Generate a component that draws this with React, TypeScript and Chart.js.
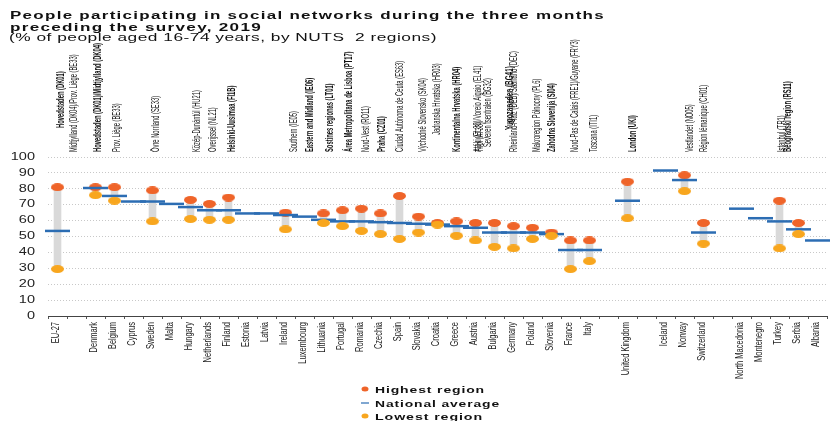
import React, { useEffect, useRef } from 'react';
import { Chart, registerables } from 'chart.js';

Chart.register(...registerables);

// ---------- DATA ----------
const TITLE_LINE_1 = 'People participating in social networks during the three months';
const TITLE_LINE_2 = 'preceding the survey, 2019';
const SUBTITLE = '(% of people aged 16-74 years, by NUTS  2 regions)';

const COUNTRIES = [
  'EU-27', '', 'Denmark', 'Belgium', 'Cyprus', 'Sweden', 'Malta', 'Hungary', 'Netherlands', 'Finland',
  'Estonia', 'Latvia', 'Ireland', 'Luxembourg', 'Lithuania', 'Portugal', 'Romania', 'Czechia', 'Spain',
  'Slovakia', 'Croatia', 'Greece', 'Austria', 'Bulgaria', 'Germany', 'Poland', 'Slovenia', 'France', 'Italy',
  ' ', 'United Kingdom', '  ', 'Iceland', 'Norway', 'Switzerland', '   ',
  'North Macedonia', 'Montenegro', 'Turkey', 'Serbia', 'Albania',
];

const HIGHEST = [
  81, null, 81, 81, null, 79, null, 73, 70.5, 74.5,
  null, null, 65, null, 64.5, 66.5, 67.5, 64.5, 75.5,
  62.5, 58.5, 59.5, 58.5, 58.5, 56.5, 55.5, 52.5, 47.5, 47.5,
  null, 84.5, null, null, 88.5, 58.5, null,
  null, null, 72.5, 58.5, null,
];

const NATIONAL = [
  53.5, null, 80.5, 75.5, 72, 72, 70.5, 68.5, 66.5, 66.5,
  64.5, 64.5, 63.5, 62.5, 60.5, 59.5, 59.5, 59, 58.5,
  58, 57.5, 56.5, 55.5, 52.5, 52.5, 52.5, 51.5, 41.5, 41.5,
  null, 72.5, null, 91.5, 85.5, 52.5, null,
  67.5, 61.5, 59.5, 54.5, 47.5,
];

const LOWEST = [
  29.5, null, 76, 72.5, null, 59.5, null, 61, 60.5, 60.5,
  null, null, 54.5, null, 58.5, 56.5, 53.5, 51.5, 48.5,
  52.5, 57.5, 50.5, 47.5, 43.5, 42.5, 48.5, 50.5, 29.5, 34.5,
  null, 61.5, null, null, 78.5, 45.5, null,
  null, null, 42.5, 51.5, null,
];

const LEGEND_LABELS = ['Highest region', 'National average', 'Lowest region'];

const REGION_LABELS = [
  'Hovedstaden (DK01)',
  'Midtjylland (DK04)/Prov. Liège (BE33)',
  'Hovedstaden (DK01)/Midtjylland (DK04)',
  'Prov. Liège (BE33)',
  'Övre Norrland (SE33)',
  'Közép-Dunántúl (HU21)',
  'Overijssel (NL21)',
  'Helsinki-Uusimaa (FI1B)',
  'Southern (IE05)',
  'Eastern and Midland (IE06)',
  'Sostines regionas (LT01)',
  'Área Metropolitana de Lisboa (PT17)',
  'Nord-Vest (RO11)',
  'Praha (CZ01)',
  'Ciudad Autónoma de Ceuta (ES63)',
  'Východné Slovensko (SK04)',
  'Jadranska Hrvatska (HR03)',
  'Kontinentalna Hrvatska (HR04)',
  'Attiki (EL30)/Voreio Aigaio (EL41)',
  'Tirol (AT33)',
  'Severen tsentralen (BG32)',
  'Yugozapaden (BG41)',
  'Rheinland-Pfalz (DEB)/Saarland (DEC)',
  'Makroregion Północny (PL6)',
  'Zahodna Slovenija (SI04)',
  'Nord-Pas de Calais (FRE1)/Guyane (FRY3)',
  'Toscana (ITI1)',
  'London (UKI)',
  'Vestlandet (NO05)',
  'Région lémanique (CH01)',
  'Istanbul (TR1)',
  'Beogradski region (RS11)',
];

const REGION_COUNTRY = [
  'EU-27', 'EU-27', 'Denmark', 'Belgium', 'Sweden', 'Hungary', 'Netherlands', 'Finland',
  'Ireland', 'Ireland', 'Lithuania', 'Portugal', 'Romania', 'Czechia', 'Spain', 'Slovakia',
  'Croatia', 'Croatia', 'Greece', 'Austria', 'Bulgaria', 'Bulgaria', 'Germany', 'Poland',
  'Slovenia', 'France', 'Italy', 'United Kingdom', 'Norway', 'Switzerland', 'Turkey', 'Serbia',
];

// ---------- LAYOUT / STYLE (kept apart from the data) ----------
// dx: horizontal shift from the country's centre, gap: distance above the plot, b: bold, s: font size
const REGION_LAYOUT = [
  { dx: 4, gap: 29, b: true }, { dx: 17, gap: 5, b: false }, { dx: 3, gap: 5, b: true }, { dx: 3, gap: 5, b: false },
  { dx: 4, gap: 5, b: false }, { dx: 7, gap: 5, b: false }, { dx: 4, gap: 5, b: false }, { dx: 4, gap: 5, b: true },
  { dx: 9, gap: 5, b: false }, { dx: 25, gap: 5, b: true }, { dx: 7, gap: 5, b: true }, { dx: 7, gap: 5, b: true },
  { dx: 5, gap: 5, b: false }, { dx: 2, gap: 5, b: true }, { dx: 1, gap: 5, b: false }, { dx: 5, gap: 5, b: false },
  { dx: 0, gap: 22, b: false }, { dx: 20, gap: 5, b: true }, { dx: 22, gap: 5, b: false }, { dx: 5, gap: 5, b: false },
  { dx: -6, gap: 10, b: false }, { dx: 15, gap: 27, b: true, s: 11 }, { dx: 1, gap: 5, b: false }, { dx: 5, gap: 5, b: false },
  { dx: 1, gap: 5, b: true }, { dx: 5, gap: 5, b: false }, { dx: 5, gap: 5, b: false }, { dx: 6, gap: 5, b: true },
  { dx: 6, gap: 5, b: false }, { dx: 1, gap: 5, b: false }, { dx: 3, gap: 5, b: false }, { dx: -10, gap: 5, b: true },
];

const FONT = '"Liberation Sans", Arial, Helvetica, sans-serif';
const C_HIGH = '#ef6429';
const C_LOW = '#f8a61e';
const C_AVG = '#2c6db3';
const C_BAR = '#d9d9d9';
const C_TEXT = '#111111';

function ellipse(color: string, w: number, h: number) {
  const c = document.createElement('canvas');
  c.width = w;
  c.height = h;
  const g = c.getContext('2d')!;
  g.fillStyle = color;
  g.beginPath();
  g.ellipse(w / 2, h / 2, w / 2, h / 2, 0, 0, Math.PI * 2);
  g.fill();
  return c;
}

function fitText(ctx: CanvasRenderingContext2D, text: string, x: number, y: number, font: string, width: number, spacing: number) {
  ctx.save();
  ctx.font = font;
  (ctx as any).letterSpacing = spacing + 'px';
  const w = ctx.measureText(text).width;
  ctx.translate(x, y);
  ctx.scale(width / w, 1);
  ctx.textAlign = 'left';
  ctx.textBaseline = 'alphabetic';
  ctx.fillText(text, 0, 0);
  ctx.restore();
}

function stretchText(ctx: CanvasRenderingContext2D, text: string, x: number, y: number, font: string, sx: number, align: CanvasTextAlign) {
  ctx.save();
  ctx.font = font;
  ctx.translate(x, y);
  ctx.scale(sx, 1);
  ctx.textAlign = align;
  ctx.textBaseline = 'middle';
  ctx.fillText(text, 0, 0);
  ctx.restore();
}

function verticalText(ctx: CanvasRenderingContext2D, text: string, x: number, y: number, font: string, along: number, align: CanvasTextAlign) {
  ctx.save();
  ctx.font = font;
  ctx.translate(x, y);
  ctx.rotate(-Math.PI / 2);
  ctx.scale(along, 1);
  ctx.textAlign = align;
  ctx.textBaseline = 'middle';
  ctx.fillText(text, 0, 0);
  ctx.restore();
}

const textPlugin = {
  id: 'eurostatText',
  afterDraw(chart: any) {
    const ctx: CanvasRenderingContext2D = chart.ctx;
    const xs = chart.scales.x;
    const ys = chart.scales.y;
    const area = chart.chartArea;
    ctx.save();
    ctx.fillStyle = C_TEXT;

    // Title
    fitText(ctx, TITLE_LINE_1, 10, 19, `bold 10.5px ${FONT}`, 595, 0.8);
    fitText(ctx, TITLE_LINE_2, 10, 31, `bold 10.5px ${FONT}`, 252, 0.8);
    fitText(ctx, SUBTITLE, 9, 41, `10.5px ${FONT}`, 428, 0.3);

    // Y tick labels
    ctx.fillStyle = '#222';
    ys.ticks.forEach((t: any) => {
      stretchText(ctx, String(t.value), 35, ys.getPixelForValue(t.value), `10px ${FONT}`, 1.45, 'right');
    });

    // X category labels
    COUNTRIES.forEach((c, i) => {
      const label = c.trim();
      if (!label) return;
      verticalText(ctx, label, xs.getPixelForValue(i) - 1, area.bottom + 6, `10px ${FONT}`, 0.75, 'right');
    });

    // Region labels above the plot
    ctx.fillStyle = C_TEXT;
    REGION_LABELS.forEach((text, k) => {
      const idx = COUNTRIES.indexOf(REGION_COUNTRY[k]);
      const lay: any = REGION_LAYOUT[k];
      const size = lay.s || 10;
      const font = `${lay.b ? 'bold ' : ''}${size}px ${FONT}`;
      verticalText(ctx, text, xs.getPixelForValue(idx) + lay.dx, area.top - lay.gap, font, 0.58, 'left');
    });

    // Legend
    const lx = 365;
    const ly = [389, 403, 416];
    const lw = [110, 125, 108];
    ctx.fillStyle = C_HIGH;
    ctx.beginPath();
    ctx.ellipse(lx, ly[0], 3.5, 2.5, 0, 0, Math.PI * 2);
    ctx.fill();
    ctx.strokeStyle = C_AVG;
    ctx.lineWidth = 1.2;
    ctx.beginPath();
    ctx.moveTo(lx - 4, ly[1]);
    ctx.lineTo(lx + 4, ly[1]);
    ctx.stroke();
    ctx.fillStyle = C_LOW;
    ctx.beginPath();
    ctx.ellipse(lx, ly[2], 3.5, 2.5, 0, 0, Math.PI * 2);
    ctx.fill();
    ctx.fillStyle = C_TEXT;
    LEGEND_LABELS.forEach((t, i) => {
      fitText(ctx, t, 375, ly[i] + 3.5, `bold 9.5px ${FONT}`, lw[i], 0.6);
    });

    ctx.restore();
  },
};

export default function App() {
  const ref = useRef<HTMLCanvasElement>(null);

  useEffect(() => {
    const canvas = ref.current!;
    const highImg = ellipse(C_HIGH, 13, 8);
    const lowImg = ellipse(C_LOW, 13, 8);
    const ranges = COUNTRIES.map((_, i) =>
      HIGHEST[i] == null || LOWEST[i] == null ? null : [LOWEST[i], HIGHEST[i]]
    );

    const chart = new Chart(canvas, {
      type: 'bar',
      data: {
        labels: COUNTRIES,
        datasets: [
          {
            type: 'bar',
            label: 'Range',
            data: ranges as any,
            backgroundColor: C_BAR,
            barThickness: 7,
            order: 5,
          },
          {
            type: 'line',
            label: LEGEND_LABELS[0],
            data: HIGHEST as any,
            showLine: false,
            pointStyle: highImg as any,
            pointRadius: 6,
            order: 3,
          },
          {
            type: 'line',
            label: LEGEND_LABELS[1],
            data: NATIONAL as any,
            showLine: false,
            pointStyle: 'line',
            pointRadius: 12.5,
            pointBorderColor: C_AVG,
            pointBorderWidth: 2.5,
            borderColor: C_AVG,
            order: 2,
          },
          {
            type: 'line',
            label: LEGEND_LABELS[2],
            data: LOWEST as any,
            showLine: false,
            pointStyle: lowImg as any,
            pointRadius: 6,
            order: 1,
          },
        ],
      },
      options: {
        responsive: false,
        animation: false,
        devicePixelRatio: 1,
        events: [],
        layout: { padding: { left: 48, right: 0, top: 157, bottom: 102 } },
        plugins: {
          legend: { display: false },
          tooltip: { enabled: false },
          title: { display: false },
        },
        scales: {
          x: {
            offset: true,
            grid: {
              display: true,
              drawOnChartArea: false,
              offset: true,
              color: '#555',
              tickLength: 3,
            },
            border: { display: true, color: '#444', width: 1 },
            ticks: { display: false },
          },
          y: {
            min: 0,
            max: 100,
            ticks: { display: false, stepSize: 10 },
            grid: { color: '#c8c8c8', drawTicks: false },
            border: { display: false, dash: [1, 2] },
          },
        },
      },
      plugins: [textPlugin],
    });
    return () => chart.destroy();
  }, []);

  return (
    <div
      style={{
        position: 'fixed',
        left: 0,
        top: 0,
        width: 831,
        height: 421,
        overflow: 'hidden',
        background: '#ffffff',
      }}
    >
      <canvas ref={ref} width={842} height={421} style={{ display: 'block', width: 842, height: 421 }} />
    </div>
  );
}
